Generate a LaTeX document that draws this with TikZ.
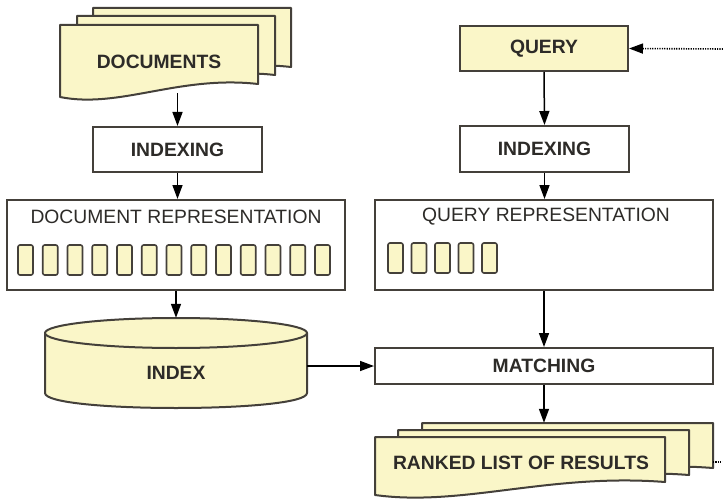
\documentclass[tikz,border=0pt]{standalone}
\usepackage{fontspec}
\setmainfont{Liberation Sans}
\usetikzlibrary{arrows.meta}
\tikzset{>={Triangle[width=10pt,length=14pt]}}
\definecolor{pagefill}{RGB}{250,246,200}
\definecolor{edge}{RGB}{68,64,58}
\definecolor{ink}{RGB}{45,43,40}
\tikzset{
	box/.style={draw=edge, line width=2pt, inner sep=0pt},
	page/.style={draw=edge, line width=2pt, fill=pagefill, line join=round},
	cell/.style={draw=edge, line width=1.6pt, fill=pagefill, rounded corners=2pt, minimum width=15pt, minimum height=30pt, inner sep=0pt},
	lbl/.style={text=ink, inner sep=0pt, font=\fontsize{19.3}{22}\selectfont\bfseries},
	title/.style={text=ink, inner sep=0pt, font=\fontsize{19.3}{22}\selectfont},
	flow/.style={draw, line width=1.5pt, ->},
	fb/.style={draw, line width=1.6pt, dash pattern=on 1.2pt off 1.2pt},
}
% one page with a wavy bottom: left, top, right, bottom
\newcommand{\docpage}[4]{%
	\path[page] (#1,#4) -- (#1,#2) -- (#3,#2) -- ({#3},{#4-13})
		.. controls ({#1+0.6*(#3-#1)},{#4-22}) and ({#1+0.3*(#3-#1)},{#4+12}) .. cycle;}

\begin{document}
\begin{tikzpicture}[x=1pt,y=-1pt]
	\useasboundingbox [fill=white] (0,0) rectangle (723,500);

	% documents
	\docpage{93}{8}{291}{80}
	\docpage{77}{16}{275}{88}
	\docpage{60}{25}{258}{97}
	\node (DOC) [lbl, minimum width=198pt, minimum height=62pt] at (159,62) {DOCUMENTS};

	\node (IX1) [box, lbl, minimum width=169pt, minimum height=45pt] at (177.5,149.5) {INDEXING};
	\node (DREP) [box, minimum width=338pt, minimum height=90pt] at (176,245) {};
	\node (DREPT) [title] at (176,217) {DOCUMENT REPRESENTATION};
	\foreach \i in {0,...,12}
		\node (DC\i) [cell] at ({25.5+24.75*\i},260) {};

	% index
	\node (IDX) [minimum width=262pt, minimum height=90pt, inner sep=0pt] at (176,363) {};
	\path[page] (45,333) -- (45,393) .. controls (45,413) and (307,413) .. (307,393) -- (307,333) -- cycle;
	\path[page] (176,333) ellipse [x radius=131pt, y radius=15pt];
	\node (IDXT) [lbl] at (176,373) {INDEX};

	% query side
	\node (QRY) [box, lbl, fill=pagefill, minimum width=168pt, minimum height=45pt] at (544,48.5) {QUERY};
	\node (IX2) [box, lbl, minimum width=169pt, minimum height=46pt] at (544.5,149) {INDEXING};
	\node (QREP) [box, minimum width=338pt, minimum height=90pt] at (544,245) {};
	\node (QREPT) [title] at (546,217) {QUERY REPRESENTATION};
	\foreach \i in {0,...,4}
		\node (QC\i) [cell] at ({395.5+23.5*\i},258) {};

	\node (MAT) [box, lbl, minimum width=338pt, minimum height=36pt] at (544,366) {MATCHING};

	% ranked list
	\docpage{422}{423}{713}{481}
	\docpage{398}{430}{689}{488}
	\docpage{375}{437}{665}{495}
	\node (RNK) [lbl, minimum height=80pt] at (521,463) {RANKED LIST OF RESULTS};

	\coordinate (FBQ) at (723,49);
	\coordinate (RNKE) at (713,462);
	\coordinate (FBR) at (723,462);

	\path [flow] (IX1.north |- DOC.south) -- (IX1.north);
	\path [flow] (IX1.south) -- (IX1.south |- DREP.north);
	\path [flow] (IDX.north |- DREP.south) -- (IDX.north);
	\path [flow] (IDX.east |- MAT.west) -- (MAT.west);
	\path [flow] (QRY.south) -- (IX2.north);
	\path [flow] (IX2.south) -- (IX2.south |- QREP.north);
	\path [flow] (QREP.south) -- (MAT.north);
	\path [flow] (MAT.south) -- (MAT.south |- RNK.north);

	\path [fb, ->] (FBQ) -- (QRY.east);
	\path [fb] (RNKE) -- (FBR);
\end{tikzpicture}
\end{document}
